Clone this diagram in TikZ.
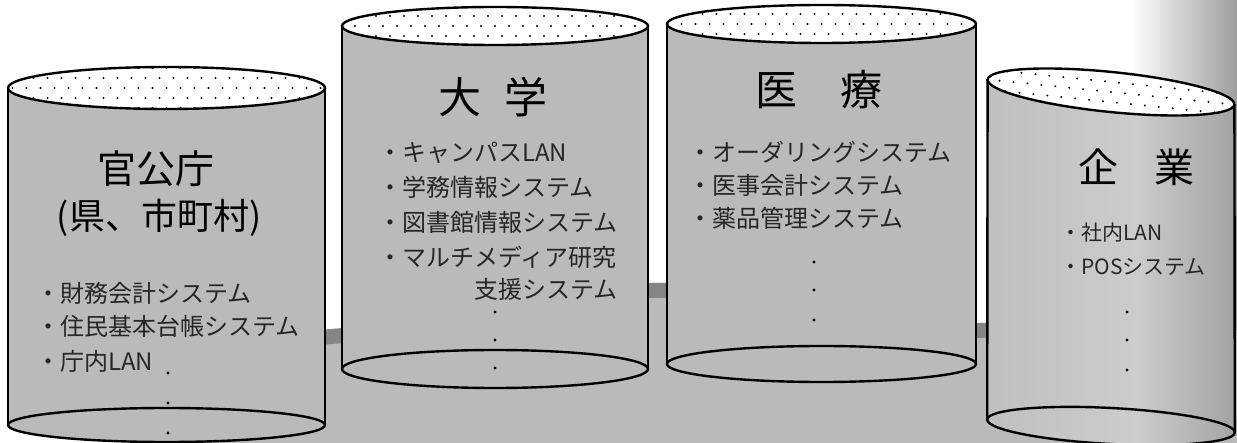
\documentclass[tikz,border=0pt]{standalone}
\usepackage{fontspec}
\newfontfamily\jp{Noto Sans CJK JP}
\usetikzlibrary{calc}

% stops between 25bp and 75bp span the filled path
\pgfdeclarehorizontalshading{pagefade}{100bp}{color(0bp)=(white); color(25bp)=(white); color(75bp)=(black!38); color(100bp)=(black!38)}
\pgfdeclarehorizontalshading{bodyfade}{100bp}{color(0bp)=(black!25); color(25bp)=(black!25); color(55bp)=(black!20); color(75bp)=(black!36); color(100bp)=(black!36)}

\colorlet{cylgray}{black!27}
\colorlet{groundgray}{black!27}
\colorlet{groundband}{black!48}

\tikzset{
  rim/.style={line width=2.4pt, black},
  item/.style={font=\jp\fontsize{24}{28}\selectfont, text=black!85, inner sep=0pt, anchor=west},
  smallitem/.style={font=\jp\fontsize{21}{25}\selectfont, text=black!85, inner sep=0pt, anchor=west},
  title/.style={font=\jp\fontsize{40}{46}\selectfont, inner sep=0pt},
}

% dotted white lid: centre x, centre y, x radius, y radius
\newcommand\lidspeckle[4]{%
  \begin{scope}
    \clip (#1,#2) ellipse [x radius=#3pt, y radius=#4pt];
    \fill[white] (#1,#2) ellipse [x radius=#3pt, y radius=#4pt];
    \foreach \r in {-2,...,2}{
      \foreach \c in {-12,...,12}{
        \fill ({#1+\c*14+mod(\r+2,2)*7},{#2+\r*10}) circle [radius=1.1pt];
      }}
  \end{scope}}

% upright drum: centre x, lid y, base y, x radius, lid y radius, base y radius
\newcommand\drum[6]{%
  \fill[cylgray] (#1-#4,#2) rectangle (#1+#4,#3);
  \fill[cylgray] (#1,#3) ellipse [x radius=#4pt, y radius=#6pt];
  \lidspeckle{#1}{#2}{#4}{#5}
  \draw[rim] (#1-#4,#2) -- (#1-#4,#3) (#1+#4,#2) -- (#1+#4,#3);
  \draw[rim] (#1,#2) ellipse [x radius=#4pt, y radius=#5pt];
  \draw[rim] (#1,#3) ellipse [x radius=#4pt, y radius=#6pt];
}

\begin{document}
\begin{tikzpicture}[x=1pt,y=-1pt]
\useasboundingbox (0,0) rectangle (1237,443);
\clip (0,0) rectangle (1237,443);

% darkening towards the right margin
\shade[shading=pagefade] (1130,0) rectangle (1237,443);

% floor strip running behind the drums
\fill[groundgray] (200,443) -- (318,330) -- (345,328) -- (645,283) -- (670,283)
  -- (972,323) -- (995,323) -- (1237,330) -- (1237,443) -- cycle;
\fill[groundband] (318,330) -- (345,328) -- (645,283) -- (670,283) -- (972,323)
  -- (995,323) -- (995,338) -- (972,338) -- (670,298) -- (645,298)
  -- (345,343) -- (318,345) -- cycle;

% four drums
\drum{166.5}{88}{425}{158.5}{21}{17}
\drum{495}{26}{369}{153}{19}{19}
\drum{821.5}{24}{364}{154.5}{19}{18}

% the tilted drum at the right
\shade[shading=bodyfade] (987.6,79.5) -- (987.2,419.5) -- (1234.8,432.5) -- (1234.4,104.5) -- cycle;
\shade[shading=bodyfade, rotate around={-3:(1111,426)}] (1111,426) ellipse [x radius=124pt, y radius=18pt];
\begin{scope}[rotate around={-5.8:(1111,92)}]
  \clip (1111,92) ellipse [x radius=124pt, y radius=20pt];
  \fill[white] (1111,92) ellipse [x radius=124pt, y radius=20pt];
  \foreach \r in {-2,...,2}{
    \foreach \c in {-10,...,10}{
      \fill ({1111+\c*14+mod(\r+2,2)*7},{92+\r*10}) circle [radius=1.1pt];
    }}
\end{scope}
\draw[rim] (987.6,79.5) -- (987.2,419.5) (1234.4,104.5) -- (1234.8,432.5);
\draw[rim, rotate around={-5.8:(1111,92)}] (1111,92) ellipse [x radius=124pt, y radius=20pt];
\draw[rim, rotate around={-3:(1111,426)}] (1111,426) ellipse [x radius=124pt, y radius=18pt];

% government offices
\node[title, font=\jp\fontsize{39}{44}\selectfont] (govt) at (156,169) {官公庁};
\node[title, font=\jp\fontsize{36}{40}\selectfont] (govtsub) at (159,218) {(県、市町村)};
\node[item] (g1) at (36,293) {・財務会計システム};
\node[item] (g2) at (36,326) {・住民基本台帳システム};
\node[item] (g3) at (36,361) {・庁内LAN};
\foreach \y in {373,403,433} \fill (168,\y) circle [radius=1.6pt];

% universities
\node[title, font=\jp\fontsize{43}{48}\selectfont] (univ) at (493,97) {大\hspace{24pt}学};
\node[item] (u1) at (378,153) {・キャンパスLAN};
\node[item] (u2) at (378,187) {・学務情報システム};
\node[item] (u3) at (378,222) {・図書館情報システム};
\node[item] (u4) at (378,257) {・マルチメディア研究};
\node[item, anchor=east] (u5) at (618,289) {支援システム};
\foreach \y in {312,340,368} \fill (495,\y) circle [radius=1.6pt];

% medical care
\node[title, font=\jp\fontsize{42}{48}\selectfont] (med) at (819,90) {医\hspace{44pt}療};
\node[item] (m1) at (688,152) {・オーダリングシステム};
\node[item] (m2) at (688,185) {・医事会計システム};
\node[item] (m3) at (688,218) {・薬品管理システム};
\foreach \y in {262,290,320} \fill (814,\y) circle [radius=1.6pt];

% enterprises
\node[title] (corp) at (1136,167) {企\hspace{36pt}業};
\node[smallitem] (c1) at (1060,233) {・社内LAN};
\node[smallitem] (c2) at (1060,267) {・POSシステム};
\foreach \y in {312,340,370} \fill (1127,\y) circle [radius=1.6pt];
\end{tikzpicture}
\end{document}
